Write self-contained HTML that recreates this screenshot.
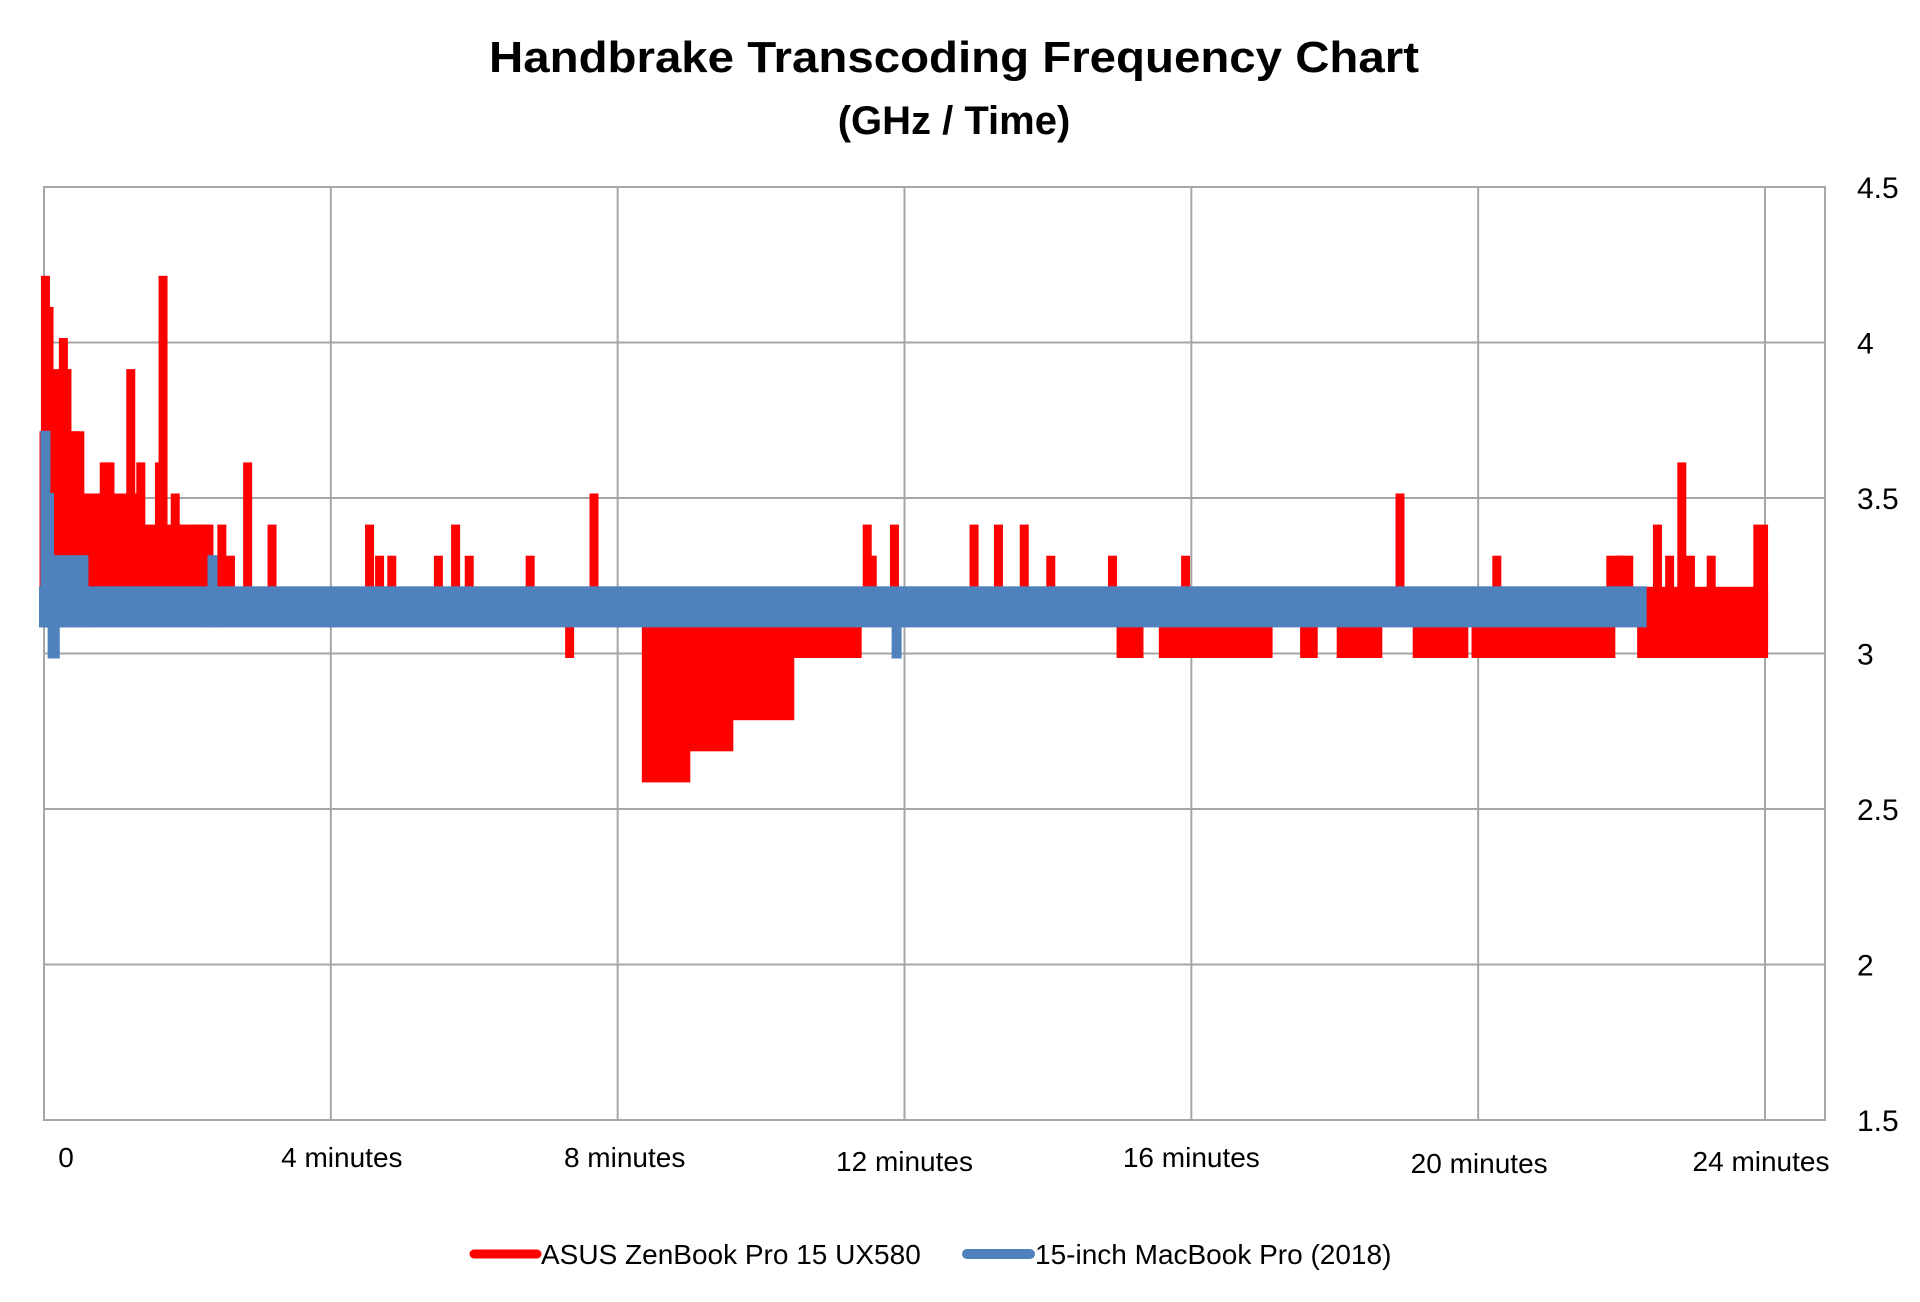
<!DOCTYPE html>
<html><head><meta charset="utf-8"><style>
html,body{margin:0;padding:0;background:#fff;}
svg{display:block;font-family:"Liberation Sans",sans-serif;}
</style></head><body>
<svg id="chart" width="1920" height="1302" viewBox="0 0 1920 1302" xmlns="http://www.w3.org/2000/svg">
<text x="954" y="72" text-anchor="middle" font-size="44" font-weight="bold" textLength="930" lengthAdjust="spacingAndGlyphs">Handbrake Transcoding Frequency Chart</text>
<text x="954" y="134" text-anchor="middle" font-size="40" font-weight="bold">(GHz / Time)</text>
<g id="grid"></g>
<g id="series"></g>
<g id="axes"></g>
<g>
<line x1="474" y1="1254" x2="537" y2="1254" stroke="#ff0000" stroke-width="9" stroke-linecap="round"/>
<text x="541" y="1264" font-size="28">ASUS ZenBook Pro 15 UX580</text>
<line x1="967" y1="1254" x2="1030" y2="1254" stroke="#4f81bd" stroke-width="10" stroke-linecap="round"/>
<text x="1035" y="1264" font-size="28">15-inch MacBook Pro (2018)</text>
</g>
</svg>
<script>
const redStart = [0,0.5,1.3, 0.02,0.07,0.15,0.27,0.32,0.44,0.67,0.84,0.92,1.09,1.21,1.35,1.61,1.66,1.83,1.95,2.12,2.24,2.48,2.6,2.84,3.18,4.54,4.68,4.85,5.5,5.74,5.93,6.78,7.33,7.67,8.4,8.95,9.55,10.4,11.48,11.55,11.86,12.97,13.31,13.67,14.04,14.9,15.02,15.61,15.92,17.58,18.09,18.91,19.15,19.97,20.26,21.85,21.99,22.28,22.5,22.67,22.84,22.96,23.25,23.9];
const redEnd   = [0.5,1.3,2.3, 0.02,0.07,0.15,0.27,0.32,0.44,0.67,0.84,0.92,1.09,1.21,1.35,1.61,1.66,1.83,1.95,2.12,2.24,2.48,2.6,2.84,3.18,4.54,4.68,4.85,5.5,5.74,5.93,6.78,7.33,7.67,8.95,9.55,10.4,11.34,11.48,11.55,11.86,12.97,13.31,13.67,14.04,14.9,15.27,17.07,15.92,17.7,18.6,18.91,19.8,21.85,20.26,22.1,21.99,23.98,22.5,22.67,22.84,22.96,23.25,23.98];
const redLow   = [3.1,3.1,3.1, 3.1,3.1,3.1,3.1,3.1,3.1,3.1,3.1,3.1,3.1,3.1,3.1,3.1,3.1,3.1,3.1,3.1,3.1,3.1,3.1,3.1,3.1,3.1,3.1,3.1,3.1,3.1,3.1,3.1,3.0,3.1,2.6,2.7,2.8,3.0,3.1,3.1,3.1,3.1,3.1,3.1,3.1,3.1,3.0,3.0,3.1,3.0,3.0,3.1,3.0,3.0,3.1,3.1,3.1,3.0,3.1,3.1,3.1,3.1,3.1,3.0];
const redHigh  = [3.7,3.5,3.4, 4.2,4.1,3.9,4.0,3.9,3.7,3.5,3.6,3.6,3.5,3.9,3.6,3.6,4.2,3.5,3.4,3.4,3.4,3.4,3.3,3.6,3.4,3.4,3.3,3.3,3.3,3.4,3.3,3.3,3.1,3.5,3.1,3.1,3.1,3.1,3.4,3.3,3.4,3.4,3.4,3.4,3.3,3.3,3.1,3.1,3.3,3.1,3.1,3.5,3.1,3.1,3.3,3.3,3.3,3.2,3.4,3.3,3.6,3.3,3.3,3.4];
const blueStart = [0,0.02,0.07,0.12,0.15,2.35,11.89];
const blueEnd   = [22.28,0.02,0.07,0.15,0.55,2.35,11.89];
const blueLow   = [3.1,3.1,3.1,3.0,3.1,3.1,3.0];
const blueHigh  = [3.2,3.7,3.5,3.1,3.3,3.3,3.1];
const yTicks = [1.5,2,2.5,3,3.5,4,4.5];
const yTickLabels = ["1.5","2","2.5","3","3.5","4","4.5"];
const xTicks = [0,4,8,12,16,20,24];
const xTickLabels = ["0","4 minutes","8 minutes","12 minutes","16 minutes","20 minutes","24 minutes"];

const L=44,R=1825,T=187,B=1120;
const xs=m=>L+m*(1765-L)/24;
const ys=v=>B-(v-1.5)*(B-T)/3;
const NS="http://www.w3.org/2000/svg";
function mk(tag,attrs,parent){const e=document.createElementNS(NS,tag);for(const k in attrs)e.setAttribute(k,attrs[k]);parent.appendChild(e);return e;}
const grid=document.getElementById('grid'),series=document.getElementById('series'),axes=document.getElementById('axes');
yTicks.forEach((v,i)=>{
  const ln=mk('line',{x1:L,x2:R,y1:ys(v),y2:ys(v),stroke:'#a6a6a6','stroke-width':2},grid);
  
  
  const t=mk('text',{x:1857,y:ys(v)+11,'font-size':30},axes);
  t.textContent=yTickLabels[i];
  
  
});
const labBase=[1167,1167,1167,1171,1167,1173,1171];
const labDx=[0,11,7,0,0,1,-4];
xTicks.forEach((m,i)=>{
  const ln=mk('line',{x1:xs(m),x2:xs(m),y1:T,y2:B,stroke:'#a6a6a6','stroke-width':2},grid);
  
  
  const t=mk('text',{x:i===0?66:xs(m)+labDx[i],y:labBase[i],'font-size':28,'text-anchor':'middle'},axes);
  t.textContent=xTickLabels[i];
  
  
});
const fr=mk('rect',{x:L,y:T,width:R-L,height:B-T,fill:'none',stroke:'#a6a6a6','stroke-width':2},grid);


function draw(st,en,lo,hi,color,sw,name){
  for(let i=0;i<st.length;i++){
    const x0=xs(st[i]),x1=xs(en[i]),y0=ys(hi[i]),y1=ys(lo[i]);
    const r=mk('rect',{x:x0-sw/2,y:y0-sw/2,width:x1-x0+sw,height:y1-y0+sw,fill:color},series);
    
    
  }
}
draw(redStart,redEnd,redLow,redHigh,'#ff0000',9,'asus-series-mark');
draw(blueStart,blueEnd,blueLow,blueHigh,'#4f81bd',10,'macbook-series-mark');
</script>
</body></html>
